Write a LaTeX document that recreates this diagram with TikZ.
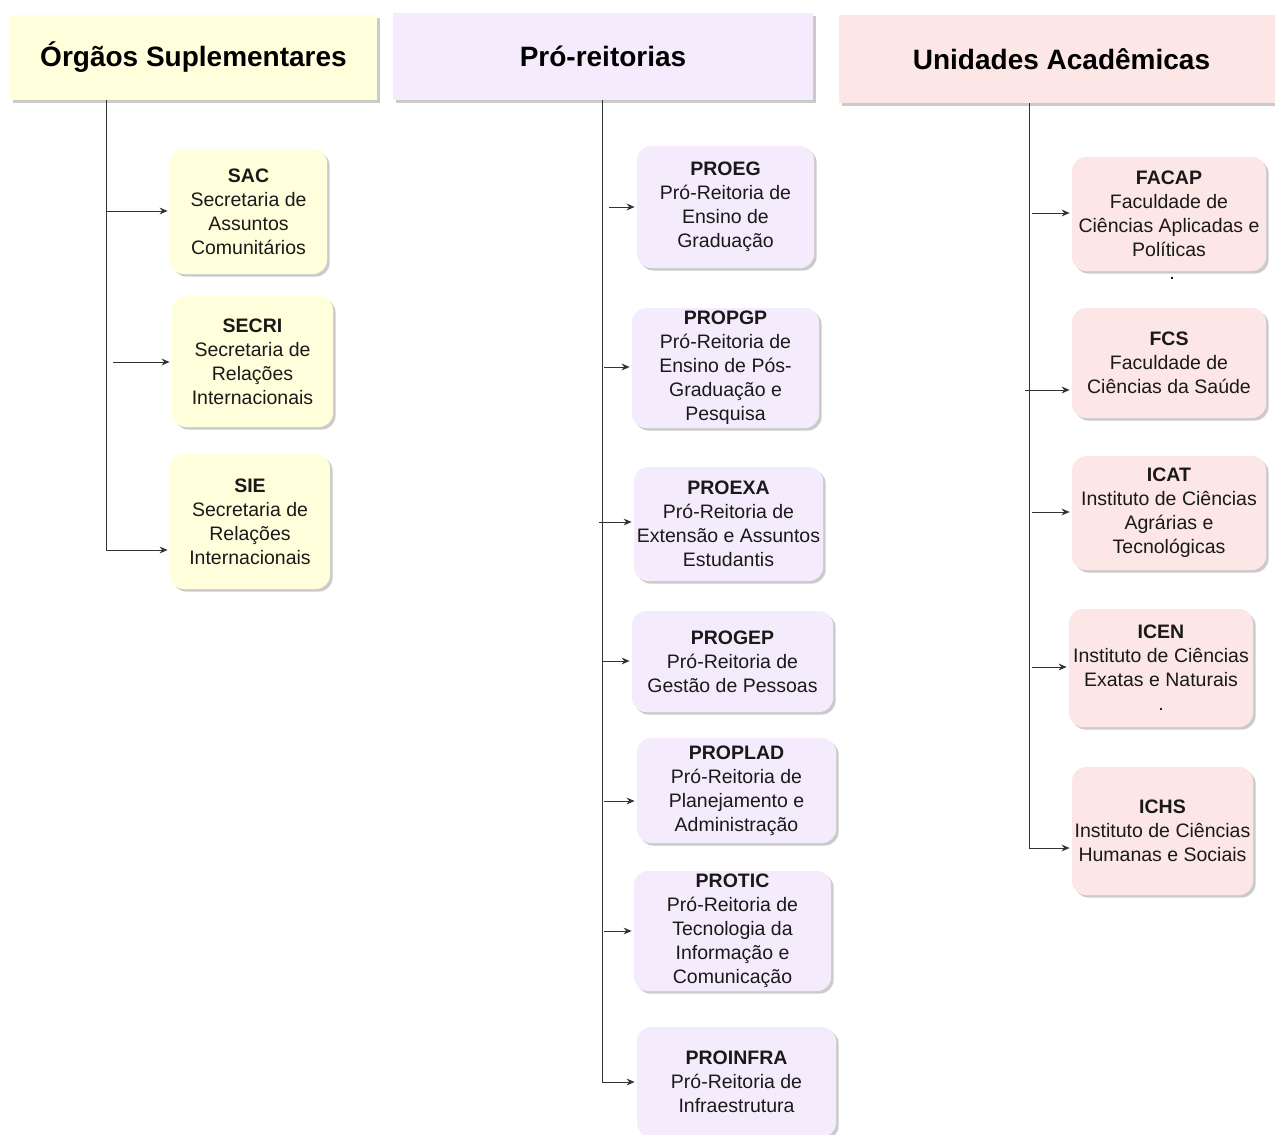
\documentclass[tikz,border=0pt]{standalone}
\usepackage{fontspec}
\setmainfont{Liberation Sans}
\usetikzlibrary{arrows.meta,shadows}
\definecolor{yel}{HTML}{FFFFDC}
\definecolor{lav}{HTML}{F4ECFC}
\definecolor{pnk}{HTML}{FDE6E6}
\definecolor{ln}{HTML}{333333}
\tikzset{
  shd/.style={drop shadow={shadow xshift=1.3pt,shadow yshift=-1.3pt,fill=black!45,opacity=0.45}},
  hdr/.style={rectangle,shd,inner sep=0pt,font=\fontsize{14}{17}\selectfont\bfseries,text=black},
  orgbox/.style={rectangle,rounded corners=7pt,shd,inner sep=0pt,align=center,
    font=\fontsize{9.75}{12}\selectfont,text=black!90},
  trunk/.style={draw=ln,line width=0.5pt},
  arr/.style={draw=ln,line width=0.5pt,-{Stealth[length=4pt,width=3.4pt]},shorten >=1pt},
}
\begin{document}
\begin{tikzpicture}[x=0.5pt,y=-0.5pt]
\useasboundingbox (0,0) rectangle (1275,1135);
% headers
\node[hdr,fill=yel,minimum width=183.5pt,minimum height=42.5pt] (h1) at (193.5,57.5) {Órgãos Suplementares};
\node[hdr,fill=lav,minimum width=210pt,minimum height=43.5pt] (h2) at (603,56.5) {Pró-reitorias};
\node[hdr,fill=pnk,minimum width=222.5pt,minimum height=44pt] (h3) at (1061.5,59) {Unidades Acadêmicas};
% column 1
\node[orgbox,fill=yel,minimum width=78.5pt,minimum height=62.5pt] (sac) at (248.5,211.5) {\textbf{SAC}\\Secretaria de\\Assuntos\\Comunitários};
\node[orgbox,fill=yel,minimum width=80.5pt,minimum height=65.5pt] (secri) at (252.5,361.5) {\textbf{SECRI}\\Secretaria de\\Relações\\Internacionais};
\node[orgbox,fill=yel,minimum width=80pt,minimum height=67.5pt] (sie) at (250,521.5) {\textbf{SIE}\\Secretaria de\\Relações\\Internacionais};
% column 2
\node[orgbox,fill=lav,minimum width=88.5pt,minimum height=61pt] (proeg) at (725.5,207) {\textbf{PROEG}\\Pró-Reitoria de\\Ensino de\\Graduação};
\node[orgbox,fill=lav,minimum width=93.5pt,minimum height=60pt] (propgp) at (725.5,368) {\textbf{PROPGP}\\Pró-Reitoria de\\Ensino de Pós-\\Graduação e\\Pesquisa};
\node[orgbox,fill=lav,minimum width=94.5pt,minimum height=57pt] (proexa) at (728.5,524) {\textbf{PROEXA}\\Pró-Reitoria de\\Extensão e Assuntos\\Estudantis};
\node[orgbox,fill=lav,minimum width=100.5pt,minimum height=50.5pt] (progep) at (732.5,661.5) {\textbf{PROGEP}\\Pró-Reitoria de\\Gestão de Pessoas};
\node[orgbox,fill=lav,minimum width=99.5pt,minimum height=52.5pt] (proplad) at (736.5,790.5) {\textbf{PROPLAD}\\Pró-Reitoria de\\Planejamento e\\Administração};
\node[orgbox,fill=lav,minimum width=98.5pt,minimum height=60pt] (protic) at (732.5,931) {\textbf{PROTIC}\\Pró-Reitoria de\\Tecnologia da\\Informação e\\Comunicação};
\node[orgbox,fill=lav,minimum width=99.5pt,minimum height=55pt] (proinfra) at (736.5,1082) {\textbf{PROINFRA}\\Pró-Reitoria de\\Infraestrutura};
% column 3
\node[orgbox,fill=pnk,minimum width=97pt,minimum height=57pt] (facap) at (1169,214) {\textbf{FACAP}\\Faculdade de\\Ciências Aplicadas e\\Políticas};
\node[font=\fontsize{9.75}{12}\selectfont,inner sep=0pt] (facapdot) at (1172,278) {.};
\node[orgbox,fill=pnk,minimum width=97pt,minimum height=55pt] (fcs) at (1169,363) {\textbf{FCS}\\Faculdade de\\Ciências da Saúde};
\node[orgbox,fill=pnk,minimum width=97pt,minimum height=57pt] (icat) at (1169,513) {\textbf{ICAT}\\Instituto de Ciências\\Agrárias e\\Tecnológicas};
\node[orgbox,fill=pnk,minimum width=92pt,minimum height=59pt] (icen) at (1161,668) {\textbf{ICEN}\\Instituto de Ciências\\Exatas e Naturais\\.};
\node[orgbox,fill=pnk,minimum width=90.5pt,minimum height=64pt] (ichs) at (1162.5,831) {\textbf{ICHS}\\Instituto de Ciências\\Humanas e Sociais};
% trunk x positions
\path (106,0) coordinate (x1) (602,0) coordinate (x2) (1029,0) coordinate (x3);
% connectors column 1
\coordinate (c1e) at (106,550);
\draw[arr] (h1.south -| x1) -- (c1e) -- (c1e -| sie.west);
\coordinate (c1a) at (107,211);
\draw[arr] (c1a) -- (c1a -| sac.west);
\coordinate (c1b) at (113,362);
\draw[arr] (c1b) -- (c1b -| secri.west);
% connectors column 2
\coordinate (c2e) at (602,1082);
\draw[arr] (h2.south -| x2) -- (c2e) -- (c2e -| proinfra.west);
\coordinate (c2a) at (609,207);
\draw[arr] (c2a) -- (c2a -| proeg.west);
\coordinate (c2b) at (604,367);
\draw[arr] (c2b) -- (c2b -| propgp.west);
\coordinate (c2c) at (599,522);
\draw[arr] (c2c) -- (c2c -| proexa.west);
\coordinate (c2d) at (602,661);
\draw[arr] (c2d) -- (c2d -| progep.west);
\coordinate (c2f) at (604,801);
\draw[arr] (c2f) -- (c2f -| proplad.west);
\coordinate (c2g) at (604,931);
\draw[arr] (c2g) -- (c2g -| protic.west);
% connectors column 3
\coordinate (c3e) at (1029,848);
\draw[arr] (h3.south -| x3) -- (c3e) -- (c3e -| ichs.west);
\coordinate (c3a) at (1032,213);
\draw[arr] (c3a) -- (c3a -| facap.west);
\coordinate (c3b) at (1025,390);
\draw[arr] (c3b) -- (c3b -| fcs.west);
\coordinate (c3c) at (1032,512);
\draw[arr] (c3c) -- (c3c -| icat.west);
\coordinate (c3d) at (1032,667);
\draw[arr] (c3d) -- (c3d -| icen.west);
\end{tikzpicture}
\end{document}
